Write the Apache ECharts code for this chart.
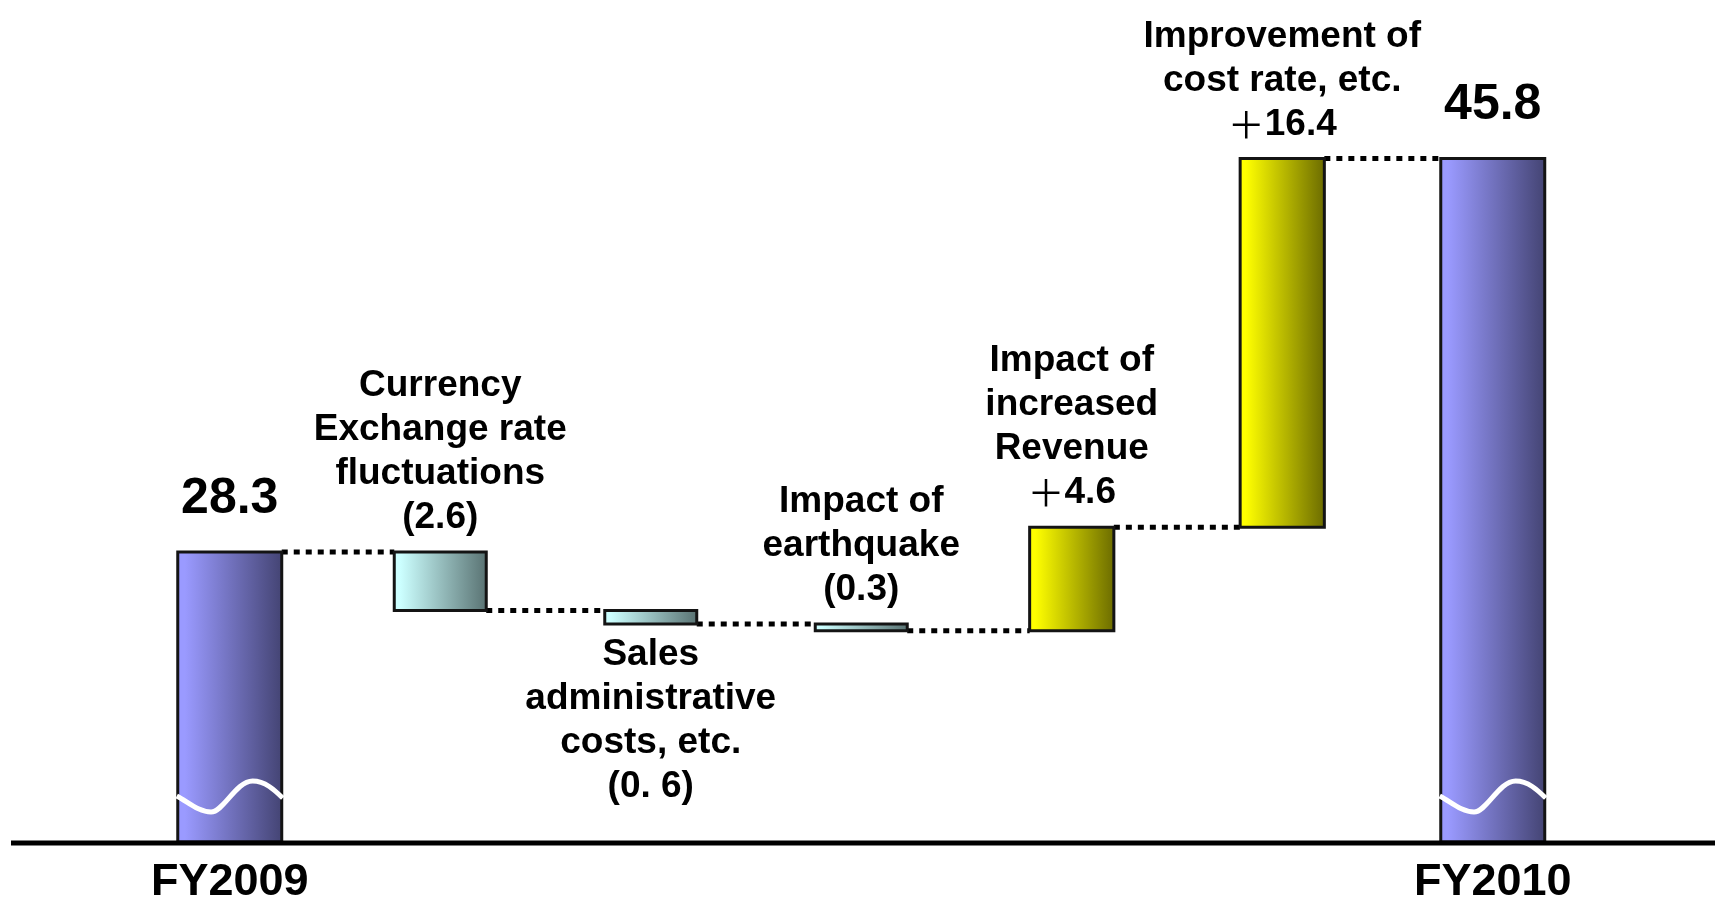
<!DOCTYPE html>
<html>
<head>
<meta charset="utf-8">
<title>Operating income bridge FY2009 to FY2010</title>
<script src="https://cdn.jsdelivr.net/npm/echarts@6/dist/echarts.min.js"></script>
<style>
  html, body { margin: 0; padding: 0; background: #ffffff; }
  #chart { width: 1715px; height: 904px; }
</style>
</head>
<body>
<div id="chart"></div>
<script>
// Bridge items, left to right
const categories = [
  'FY2009',
  'Currency\nExchange rate\nfluctuations',
  'Sales\nadministrative\ncosts, etc.',
  'Impact of\nearthquake',
  'Impact of\nincreased\nRevenue',
  'Improvement of\ncost rate, etc.',
  'FY2010'
];
// Totals are absolute levels; the items between them are changes
const values = [28.3, -2.6, -0.6, -0.3, 4.6, 16.4, 45.8];
const kinds = ['total', 'decrease', 'decrease', 'decrease', 'increase', 'increase', 'total'];
const valueLabels = ['28.3', '(2.6)', '(0. 6)', '(0.3)', '＋4.6', '＋16.4', '45.8'];

// Broken value axis: it does not start at zero
const AXIS_MIN = 15.4;
const AXIS_MAX = 50;

// ---- layout and style ----
const FONT = "'Liberation Sans', Arial, Helvetica, sans-serif";
const WIDTH = { total: 0.494, decrease: 0.437, increase: 0.40 };
const FILL = {
  total:    ['#9a9aff', '#434372'],
  decrease: ['#ccffff', '#587171'],
  increase: ['#ffff00', '#6a6a00']
};
const LABEL_BELOW = new Set([2]);   // item whose caption sits under its bar

// Floating segments: [index, from, to]
const bars = [];
let level = 0;
values.forEach((v, i) => {
  if (kinds[i] === 'total') {
    bars.push([i, AXIS_MIN, v]);
    level = v;
  } else {
    bars.push([i, level, +(level + v).toFixed(2)]);
    level = +(level + v).toFixed(2);
  }
});

function gradient(kind) {
  const c = FILL[kind];
  return new echarts.graphic.LinearGradient(0, 0, 1, 0, [
    { offset: 0, color: c[0] },
    { offset: 0.08, color: c[0] },
    { offset: 1, color: c[1] }
  ]);
}

function renderItem(params, api) {
  const i = api.value(0);
  const lo = api.value(1);
  const hi = api.value(2);
  const kind = kinds[i];
  const band = api.size([1, 0])[0];
  const w = band * WIDTH[kind];
  const pLo = api.coord([i, lo]);
  const pHi = api.coord([i, hi]);
  const cx = pLo[0];
  const top = Math.min(pLo[1], pHi[1]);
  const bottom = Math.max(pLo[1], pHi[1]);
  const left = cx - w / 2;
  const right = cx + w / 2;
  const children = [];

  // dotted connector to the next bar at the running level
  if (i < categories.length - 1) {
    const y = pHi[1];
    const nextLeft = api.coord([i + 1, hi])[0] - band * WIDTH[kinds[i + 1]] / 2;
    children.push({
      type: 'line',
      shape: { x1: right, y1: y, x2: nextLeft, y2: y },
      style: { stroke: '#000', lineWidth: 5, lineDash: [6, 6] }
    });
  }

  children.push({
    type: 'rect',
    shape: { x: left, y: top, width: w, height: bottom - top },
    style: { fill: gradient(kind), stroke: '#141414', lineWidth: 3 }
  });

  if (kind === 'total') {
    // white wavy axis-break mark across the base of the bar
    const b = bottom;
    const X = f => left + f * w;
    const d = 'M' + (left - 1) + ' ' + (b - 46) +
      ' C' + X(0.10) + ' ' + (b - 40) + ' ' + X(0.20) + ' ' + (b - 30) + ' ' + X(0.32) + ' ' + (b - 30) +
      ' C' + X(0.44) + ' ' + (b - 30) + ' ' + X(0.56) + ' ' + (b - 61) + ' ' + X(0.72) + ' ' + (b - 61) +
      ' C' + X(0.84) + ' ' + (b - 61) + ' ' + X(0.93) + ' ' + (b - 52) + ' ' + (right + 1) + ' ' + (b - 44);
    children.push({
      type: 'path',
      shape: { pathData: d },
      style: { fill: null, stroke: '#ffffff', lineWidth: 5 }
    });
    children.push({
      type: 'text',
      style: {
        text: valueLabels[i],
        x: cx, y: top - 28,
        align: 'center', verticalAlign: 'bottom',
        fontFamily: FONT, fontWeight: 'bold', fontSize: 50,
        fill: '#000'
      }
    });
  } else {
    const caption = categories[i] + '\n' + valueLabels[i].replace('＋', '{plus|＋}');
    const below = LABEL_BELOW.has(i);
    children.push({
      type: 'text',
      style: {
        text: caption,
        x: cx,
        y: below ? bottom + 9 : top - 12,
        align: 'center',
        verticalAlign: below ? 'top' : 'bottom',
        fontFamily: FONT, fontWeight: 'bold', fontSize: 37, lineHeight: 44,
        fill: '#000',
        rich: {
          plus: {
            fontFamily: "'Noto Sans CJK JP', 'DejaVu Sans', sans-serif",
            fontWeight: 'normal', fontSize: 37, lineHeight: 44, fill: '#000'
          }
        }
      }
    });
  }

  return { type: 'group', children };
}

const chart = echarts.init(document.getElementById('chart'), null, { renderer: 'canvas' });

chart.setOption({
  backgroundColor: '#ffffff',
  animation: false,
  grid: { left: 124.5, right: 117, top: 64, bottom: 62, outerBoundsMode: 'none', containLabel: false },
  xAxis: {
    type: 'category',
    data: categories,
    axisLine: { show: false },
    axisTick: { show: false },
    splitLine: { show: false },
    axisLabel: {
      interval: 0,
      margin: 18,
      fontFamily: FONT,
      fontWeight: 'bold',
      fontSize: 45,
      lineHeight: 45,
      color: '#000',
      formatter: (val, idx) => (kinds[idx] === 'total' ? val : '')
    }
  },
  yAxis: {
    type: 'value',
    min: AXIS_MIN,
    max: AXIS_MAX,
    show: false,
    splitLine: { show: false }
  },
  series: [{
    type: 'custom',
    clip: false,
    renderItem: renderItem,
    encode: { x: 0, y: [1, 2] },
    data: bars
  }]
});

// Base line along the bottom of the chart
const baseY = chart.convertToPixel({ yAxisIndex: 0 }, AXIS_MIN);
chart.setOption({
  graphic: [{
    type: 'line',
    z: 100,
    shape: { x1: 11, y1: baseY + 1, x2: 1715, y2: baseY + 1 },
    style: { stroke: '#000', lineWidth: 5 }
  }]
});
</script>
</body>
</html>
